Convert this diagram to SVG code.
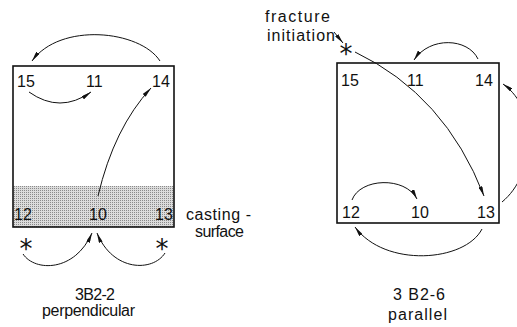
<svg xmlns="http://www.w3.org/2000/svg" width="517" height="327" viewBox="0 0 517 327">
<style>
.t{font-family:"Liberation Sans","DejaVu Sans",sans-serif;font-size:16px;fill:#111}
.s{font-family:"DejaVu Sans",sans-serif;font-size:26px;fill:#111}
.box{fill:none;stroke:#111;stroke-width:1.6}
.ca{fill:none;stroke:#111;stroke-width:1;marker-end:url(#a)}
</style>
<defs>
<marker id="a" viewBox="0 0 10 4" refX="10" refY="2" markerWidth="10" markerHeight="4" markerUnits="userSpaceOnUse" orient="auto">
<path d="M0,0 L10,2 L0,4 Z" fill="#111"/>
</marker>
<pattern id="dots" width="2" height="2" patternUnits="userSpaceOnUse">
<rect width="2" height="2" fill="#dcdcdc"/>
<rect width="1" height="1" fill="#8a8a8a"/>
</pattern>
</defs>
<g id="specimen-3B2-2">
<rect x="13" y="186" width="161" height="41" fill="url(#dots)"/>
<rect class="box" x="13" y="66" width="161" height="161"/>
<text class="t" x="17" y="87">15</text>
<text class="t" x="86" y="87">11</text>
<text class="t" x="152" y="87">14</text>
<text class="t" x="14" y="220">12</text>
<text class="t" x="89" y="220">10</text>
<text class="t" x="155" y="220">13</text>
<text class="s" x="26" y="258" text-anchor="middle">*</text>
<text class="s" x="162" y="258" text-anchor="middle">*</text>
<text class="t" x="75" y="300" textLength="40" lengthAdjust="spacing">3B2-2</text>
<text class="t" x="42" y="316" textLength="93" lengthAdjust="spacing">perpendicular</text>
<text class="t" x="186" y="220" textLength="65" lengthAdjust="spacing">casting -</text>
<text class="t" x="195" y="237" textLength="49" lengthAdjust="spacing">surface</text>
</g>
<g id="specimen-3B2-6">
<rect class="box" x="337" y="63" width="162" height="160"/>
<text class="t" x="341" y="86">15</text>
<text class="t" x="407" y="86">11</text>
<text class="t" x="475" y="86">14</text>
<text class="t" x="342" y="218">12</text>
<text class="t" x="411" y="218">10</text>
<text class="t" x="477" y="218">13</text>
<text class="t" x="265" y="22" textLength="65" lengthAdjust="spacing">fracture</text>
<text class="t" x="267" y="41" textLength="68" lengthAdjust="spacing">initiation</text>
<text class="s" x="346" y="63" text-anchor="middle">*</text>
<text class="t" x="393" y="300" textLength="52" lengthAdjust="spacing">3 B2-6</text>
<text class="t" x="388" y="320" textLength="59" lengthAdjust="spacing">parallel</text>
</g>
<g id="connectors">
<path class="ca" d="M160,61 C140,30 60,22 32,61"/>
<path class="ca" d="M29,92 Q60,114 91,92"/>
<path class="ca" d="M98,196 Q114,128 151,88"/>
<path class="ca" d="M23,254 C35,272 75,272 92,233"/>
<path class="ca" d="M165,253 C153,272 113,272 97,233"/>
<path class="ca" d="M334,32 L343,43"/>
<path class="ca" d="M355,52 Q445,95 484,196"/>
<path class="ca" d="M478,59 C468,38 430,36 414,60"/>
<path class="ca" d="M502,202 C535,175 540,110 503,84"/>
<path class="ca" d="M482,229 C465,262 385,268 355,227"/>
<path class="ca" d="M352,200 C360,178 405,176 417,199"/>
</g>
</svg>
